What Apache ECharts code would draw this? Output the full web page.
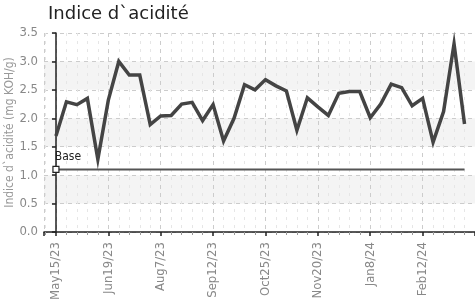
<!DOCTYPE html>
<html>
<head>
<meta charset="utf-8">
<script src="https://cdn.jsdelivr.net/npm/echarts@6/dist/echarts.min.js"></script>
<style>
  html, body { margin: 0; padding: 0; background: #fff; }
  #chart { width: 475px; height: 301px; }
</style>
</head>
<body>
<div id="chart"></div>
<script>
// libellés des graduations (un tous les 5 points)
const tickLabels = ['May15/23', 'Jun19/23', 'Aug7/23', 'Sep12/23', 'Oct25/23', 'Nov20/23', 'Jan8/24', 'Feb12/24'];

// indice d'acidité mesuré (mg KOH/g), un point par prélèvement
const acidValues = [
  1.69, 2.29, 2.24, 2.35, 1.28, 2.32, 3.0, 2.76, 2.76, 1.89,
  2.04, 2.05, 2.25, 2.28, 1.96, 2.24, 1.6, 2.0, 2.59, 2.5,
  2.68, 2.57, 2.48, 1.79, 2.36, 2.2, 2.05, 2.44, 2.47, 2.47,
  2.01, 2.25, 2.6, 2.54, 2.22, 2.35, 1.58, 2.12, 3.31, 1.9
];

const baseValue = 1.1;

const narrowFont = "'Liberation Sans Narrow', 'DejaVu Sans Condensed', sans-serif";

const chart = echarts.init(document.getElementById('chart'));

const acidData = acidValues.map((v, i) => [i, v]);
const baseData = acidValues.map((v, i) => [i, baseValue]);
baseData[0] = {
  value: [0, baseValue],
  symbol: 'rect',
  symbolSize: 6,
  itemStyle: { color: '#fff', borderColor: '#222', borderWidth: 1.2 },
  label: {
    show: true,
    position: 'top',
    formatter: 'Base',
    color: '#222',
    fontFamily: narrowFont,
    fontSize: 12,
    offset: [12, 2]
  }
};

const option = {
  animation: false,
  title: {
    text: 'Indice d`acidité',
    left: 43,
    top: 0,
    textStyle: { fontFamily: 'DejaVu Sans', fontSize: 18, fontWeight: 'normal', color: '#222' }
  },
  grid: { left: 44, right: 0, top: 33, bottom: 69, outerBoundsMode: 'none' },
  xAxis: {
    type: 'value',
    min: -1.14,
    max: 40,
    splitNumber: 8,
    axisLine: { show: true, lineStyle: { color: '#222', width: 1.5 } },
    axisTick: { show: true, length: 4, lineStyle: { color: '#222', width: 1.5 } },
    minorTick: { show: true, splitNumber: 5, length: 3, lineStyle: { color: '#999' } },
    axisLabel: {
      rotate: 90,
      color: '#888',
      fontFamily: narrowFont,
      fontSize: 13,
      margin: 10,
      showMinLabel: true,
      showMaxLabel: true,
      formatter: (v) => {
        if (v < 0 || Math.abs(v % 5) > 1e-6) return '';
        return tickLabels[v / 5] || '';
      }
    },
    splitLine: { show: true, lineStyle: { color: '#ccc', type: [4, 4] } },
    minorSplitLine: { show: true, lineStyle: { color: '#e6e6e6', type: [3, 5] } }
  },
  yAxis: {
    type: 'value',
    min: 0,
    max: 3.5,
    interval: 0.5,
    name: 'Indice d`acidité (mg KOH/g)',
    nameLocation: 'middle',
    nameGap: 28,
    nameMoveOverlap: false,
    nameTextStyle: { color: '#999', fontFamily: narrowFont, fontSize: 12 },
    axisLine: { show: true, lineStyle: { color: '#222', width: 1.5 } },
    axisTick: { show: true, length: 4, lineStyle: { color: '#222', width: 1.5 } },
    axisLabel: {
      color: '#888',
      fontFamily: narrowFont,
      fontSize: 13,
      margin: 6,
      formatter: (v) => v.toFixed(1)
    },
    splitLine: { show: true, lineStyle: { color: '#ccc', type: [4, 4] } },
    splitArea: { show: true, areaStyle: { color: ['rgba(255,255,255,0)', '#f4f4f4'] } }
  },
  series: [
    {
      name: 'Base',
      type: 'line',
      data: baseData,
      showSymbol: true,
      symbol: 'none',
      lineStyle: { color: '#555', width: 2 },
      z: 2
    },
    {
      name: 'Indice d`acidité',
      type: 'line',
      data: acidData,
      symbol: 'none',
      lineStyle: { color: '#444', width: 3.5, join: 'miter' },
      z: 3
    }
  ]
};

chart.setOption(option);
</script>
</body>
</html>
